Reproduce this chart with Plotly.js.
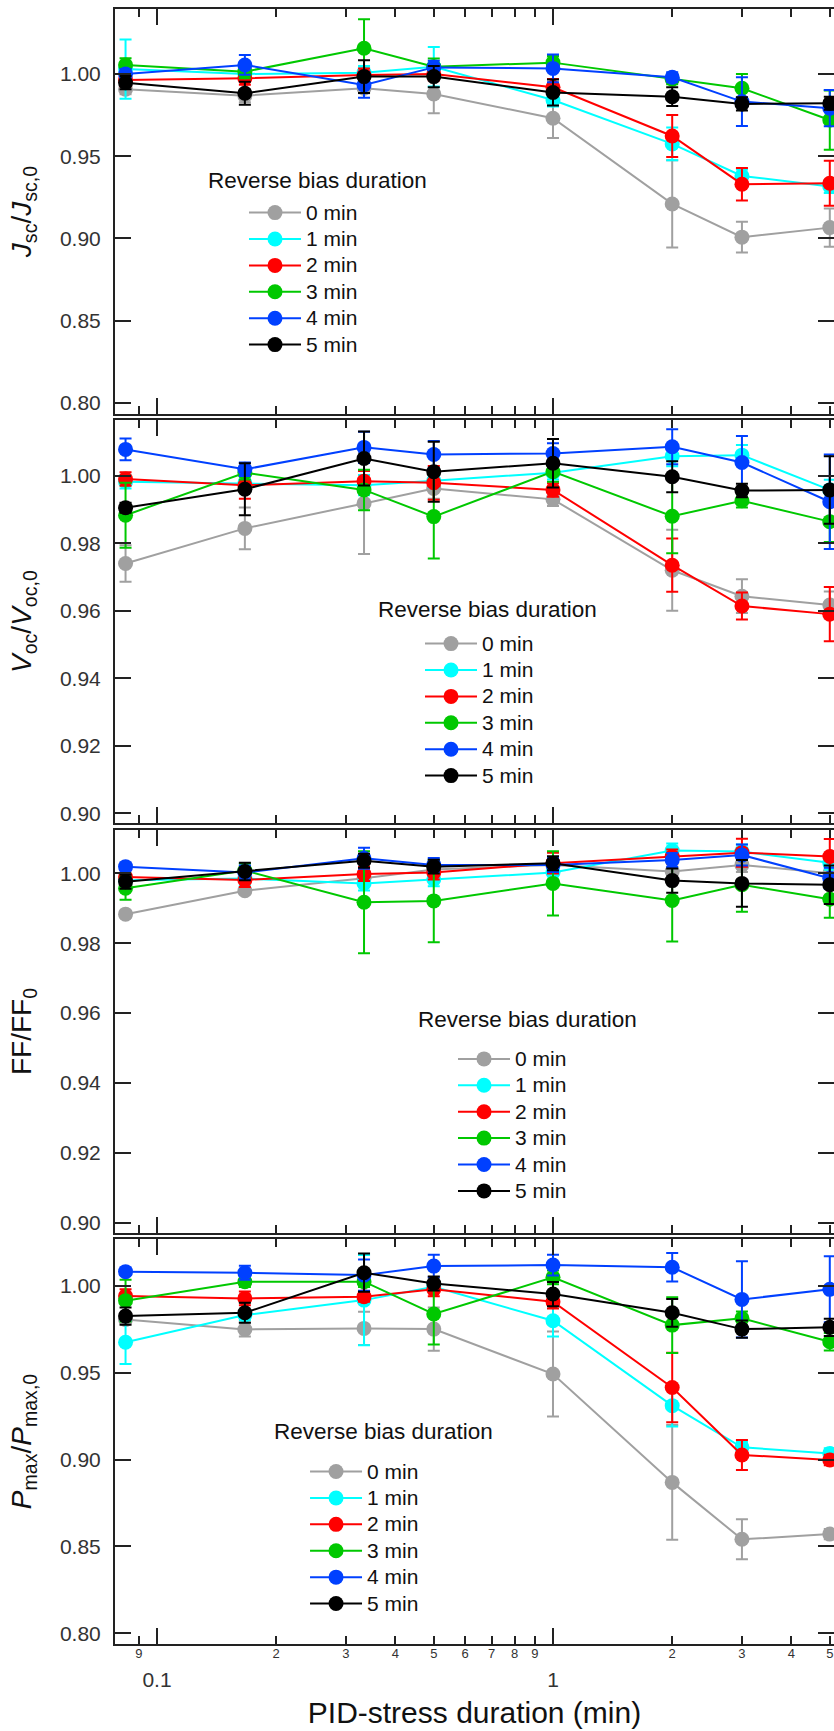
<!DOCTYPE html>
<html>
<head>
<meta charset="utf-8">
<script src="https://cdn.plot.ly/plotly-3.0.1.min.js"></script>
<style>
html,body{margin:0;padding:0;background:#fff;overflow:hidden;}
#chart{width:834px;height:1731px;}
</style>
</head>
<body>
<div id="chart"></div>
<script>
// PID-stress duration (min)
const stressMin = [0.0833, 0.1667, 0.3333, 0.5, 1, 2, 3, 5];
const seriesNames = ["0 min", "1 min", "2 min", "3 min", "4 min", "5 min"];
const seriesColors = ["#a0a0a0", "#00ffff", "#ff0000", "#00c800", "#0040ff", "#000000"];

// Jsc / Jsc,0 (rows: 0..5 min reverse bias)
const jscVal = [
  [0.9907, 0.9868, 0.9913, 0.9878, 0.9731, 0.9210, 0.9008, 0.9066],
  [1.0030, 1.0000, 1.0008, 1.0044, 0.9842, 0.9575, 0.9380, 0.9316],
  [0.9964, 0.9974, 0.9994, 1.0000, 0.9919, 0.9623, 0.9330, 0.9336],
  [1.0055, 1.0014, 1.0156, 1.0044, 1.0069, 0.9968, 0.9913, 0.9720],
  [1.0000, 1.0055, 0.9933, 1.0040, 1.0034, 0.9980, 0.9832, 0.9792],
  [0.9947, 0.9883, 0.9984, 0.9984, 0.9887, 0.9862, 0.9818, 0.9822]
];
const jscErr = [
  [0.003, 0.004, 0.003, 0.0117, 0.012, 0.0265, 0.0093, 0.0116],
  [0.018, 0.004, 0.004, 0.012, 0.004, 0.010, 0.004, 0.004],
  [0.004, 0.004, 0.004, 0.004, 0.005, 0.0127, 0.0099, 0.0137],
  [0.004, 0.004, 0.0176, 0.005, 0.004, 0.003, 0.0087, 0.018],
  [0.003, 0.006, 0.0077, 0.004, 0.0085, 0.003, 0.0148, 0.011],
  [0.004, 0.007, 0.010, 0.0065, 0.0079, 0.0057, 0.004, 0.004]
];

// Voc / Voc,0
const vocVal = [
  [0.9740, 0.9844, 0.9918, 0.9962, 0.9930, 0.9720, 0.9643, 0.9617],
  [0.9982, 0.9978, 0.9972, 0.9985, 1.0009, 1.0058, 1.0061, 0.9958],
  [0.9990, 0.9972, 0.9984, 0.9979, 0.9958, 0.9735, 0.9614, 0.9590],
  [0.9883, 1.0009, 0.9958, 0.9879, 1.0012, 0.9880, 0.9926, 0.9864],
  [1.0078, 1.0019, 1.0084, 1.0063, 1.0066, 1.0086, 1.0039, 0.9923],
  [0.9905, 0.9960, 1.0051, 1.0012, 1.0037, 0.9997, 0.9956, 0.9958]
];
const vocErr = [
  [0.0054, 0.0062, 0.015, 0.003, 0.002, 0.012, 0.005, 0.004],
  [0.002, 0.002, 0.003, 0.002, 0.002, 0.003, 0.003, 0.003],
  [0.002, 0.004, 0.003, 0.005, 0.002, 0.0079, 0.004, 0.008],
  [0.0096, 0.002, 0.006, 0.0124, 0.003, 0.011, 0.002, 0.006],
  [0.0032, 0.002, 0.0046, 0.004, 0.003, 0.0052, 0.0079, 0.014],
  [0.0015, 0.0077, 0.008, 0.0089, 0.0072, 0.0046, 0.002, 0.010]
];

// FF / FF0
const ffVal = [
  [0.9883, 0.9950, 0.9986, 1.0011, 1.0024, 1.0005, 1.0024, 1.0000],
  [0.9980, 0.9985, 0.9971, 0.9983, 1.0002, 1.0065, 1.0062, 1.0030],
  [0.9989, 0.9981, 0.9998, 1.0002, 1.0029, 1.0048, 1.0059, 1.0048],
  [0.9957, 1.0008, 0.9917, 0.9921, 0.9971, 0.9922, 0.9967, 0.9926],
  [1.0019, 1.0002, 1.0043, 1.0024, 1.0024, 1.0038, 1.0052, 0.9986],
  [0.9976, 1.0005, 1.0036, 1.0019, 1.0029, 0.9979, 0.9971, 0.9967]
];
const ffErr = [
  [0.001, 0.001, 0.002, 0.002, 0.002, 0.002, 0.002, 0.002],
  [0.002, 0.002, 0.002, 0.002, 0.002, 0.002, 0.002, 0.002],
  [0.002, 0.002, 0.002, 0.002, 0.003, 0.002, 0.004, 0.005],
  [0.0033, 0.002, 0.0146, 0.0118, 0.0092, 0.0117, 0.0077, 0.0053],
  [0.001, 0.002, 0.003, 0.002, 0.002, 0.002, 0.003, 0.003],
  [0.002, 0.0025, 0.002, 0.002, 0.002, 0.0035, 0.0067, 0.0055]
];

// Pmax / Pmax,0
const pmaxVal = [
  [0.9808, 0.9750, 0.9756, 0.9752, 0.9493, 0.8869, 0.8541, 0.8571],
  [0.9676, 0.9833, 0.9919, 0.9996, 0.9800, 0.9311, 0.9071, 0.9036],
  [0.9942, 0.9929, 0.9939, 0.9981, 0.9910, 0.9416, 0.9027, 0.8998],
  [0.9916, 1.0025, 1.0025, 0.9839, 1.0050, 0.9775, 0.9814, 0.9679],
  [1.0083, 1.0077, 1.0063, 1.0115, 1.0121, 1.0108, 0.9923, 0.9981],
  [0.9827, 0.9846, 1.0077, 1.0015, 0.9954, 0.9846, 0.9752, 0.9762]
];
const pmaxErr = [
  [0.002, 0.004, 0.0096, 0.0125, 0.0245, 0.033, 0.0115, 0.003],
  [0.0125, 0.003, 0.026, 0.003, 0.009, 0.012, 0.003, 0.003],
  [0.004, 0.004, 0.003, 0.004, 0.004, 0.020, 0.0086, 0.003],
  [0.012, 0.003, 0.003, 0.0175, 0.004, 0.016, 0.004, 0.005],
  [0.002, 0.004, 0.009, 0.0065, 0.006, 0.0082, 0.022, 0.019],
  [0.005, 0.0058, 0.011, 0.004, 0.007, 0.008, 0.005, 0.005]
];

const xMajorTicks = [0.1, 1];
const xMajorText = ["0.1", "1"];
const xMinorTicks = [0.09, 0.2, 0.3, 0.4, 0.5, 0.6, 0.7, 0.8, 0.9, 2, 3, 4, 5];
const xMinorText = ["9", "2", "3", "4", "5", "6", "7", "8", "9", "2", "3", "4", "5"];
const yTicksWide = [0.80, 0.85, 0.90, 0.95, 1.00];
const yTicksNarrow = [0.90, 0.92, 0.94, 0.96, 0.98, 1.00];
const legendTitle = "Reverse bias duration";

const FONT = "Liberation Sans, Arial, Helvetica, sans-serif";
const panels = [
  {vals: jscVal, errs: jscErr, ax: "", leg: "legend"},
  {vals: vocVal, errs: vocErr, ax: "2", leg: "legend2"},
  {vals: ffVal, errs: ffErr, ax: "3", leg: "legend3"},
  {vals: pmaxVal, errs: pmaxErr, ax: "4", leg: "legend4"}
];

const traces = [];
panels.forEach(p => {
  p.vals.forEach((row, i) => {
    traces.push({
      type: "scatter", mode: "lines+markers",
      x: stressMin, y: row,
      name: "<span style='font-size:21px'>" + seriesNames[i] + "</span>",
      xaxis: "x" + p.ax, yaxis: "y" + p.ax,
      legend: p.leg,
      cliponaxis: false,
      line: {color: seriesColors[i], width: 2},
      marker: {color: seriesColors[i], size: 15, line: {width: 0}},
      error_y: {type: "data", array: p.errs[i], visible: true, color: seriesColors[i], thickness: 2, width: 6}
    });
  });
});
// carrier for the overlay axis that draws the small digit labels
traces.push({type: "scatter", x: [], y: [], xaxis: "x5", yaxis: "y4", showlegend: false, hoverinfo: "skip"});

const xr = [-1.106, 0.7096];
function xAxis(anchor, labels) {
  return {
    type: "log", range: xr, anchor: anchor,
    showline: true, linecolor: "#222", linewidth: 2, mirror: "ticks",
    ticks: "inside", ticklen: 16, tickwidth: 2, tickcolor: "#222",
    tickmode: "array", tickvals: xMajorTicks, ticktext: xMajorText,
    showticklabels: labels, ticklabelstandoff: 16,
    tickfont: {family: FONT, size: 21, color: "#333"},
    minor: {tickmode: "array", tickvals: xMinorTicks, ticks: "inside", ticklen: 8, tickwidth: 2, tickcolor: "#222", showgrid: false},
    showgrid: false, zeroline: false, fixedrange: true
  };
}
function yAxis(anchor, domain, range, tickvals, title) {
  return {
    domain: domain, range: range, anchor: anchor,
    showline: true, linecolor: "#222", linewidth: 2, mirror: "ticks",
    ticks: "inside", ticklen: 16, tickwidth: 2, tickcolor: "#222",
    tickmode: "array", tickvals: tickvals, tickformat: ".2f",
    ticklabelstandoff: 8,
    tickfont: {family: FONT, size: 21, color: "#333"},
    title: {text: title, font: {family: FONT, size: 28, color: "#111"}, standoff: 20},
    showgrid: false, zeroline: false, fixedrange: true
  };
}

function legendAt(x, y) {
  return {
    x: x, y: y, xanchor: "left", yanchor: "top",
    bgcolor: "rgba(0,0,0,0)", borderwidth: 0,
    font: {family: FONT, size: 18, color: "#111"},
    itemwidth: 52, tracegroupgap: 0
  };
}
function titleAnn(x, y) {
  return {
    xref: "paper", yref: "paper", x: x, y: y, xanchor: "left", yanchor: "middle",
    text: legendTitle, showarrow: false,
    font: {family: FONT, size: 22.5, color: "#111"}
  };
}

const layout = {
  width: 834, height: 1731,
  margin: {l: 115, r: 0, t: 9, b: 87},
  paper_bgcolor: "#fff", plot_bgcolor: "#fff",
  showlegend: true,
  xaxis: xAxis("y", false),
  xaxis2: xAxis("y2", false),
  xaxis3: xAxis("y3", false),
  xaxis4: Object.assign(xAxis("y4", true), {
    title: {text: "PID-stress duration (min)", font: {family: FONT, size: 30, color: "#111"}, standoff: 12}
  }),
  xaxis5: {
    type: "log", range: xr, overlaying: "x4", anchor: "y4", side: "bottom",
    showline: false, ticks: "", tickmode: "array", tickvals: xMinorTicks, ticktext: xMinorText,
    ticklabelstandoff: 0,
    tickfont: {family: FONT, size: 13, color: "#333"},
    showgrid: false, zeroline: false, fixedrange: true
  },
  yaxis: yAxis("x", [0.7523, 1], [0.7933, 1.0395], yTicksWide, "<i>J</i><sub>sc</sub>/<i>J</i><sub>sc,0</sub>"),
  yaxis2: yAxis("x2", [0.5021, 0.7486], [0.8971, 1.0165], yTicksNarrow, "<i>V</i><sub>oc</sub>/<i>V</i><sub>oc,0</sub>"),
  yaxis3: yAxis("x3", [0.2514, 0.4979], [0.8971, 1.0124], yTicksNarrow, "FF/FF<sub>0</sub>"),
  yaxis4: yAxis("x4", [0, 0.2477], [0.7938, 1.0271], yTicksWide, "<i>P</i><sub>max</sub>/<i>P</i><sub>max,0</sub>"),
  legend: legendAt(0.1794, 0.8866),
  legend2: legendAt(0.4242, 0.6230),
  legend3: legendAt(0.4701, 0.3690),
  legend4: legendAt(0.2643, 0.1166),
  annotations: [
    titleAnn(0.126, 0.8954),
    titleAnn(0.3624, 0.6330),
    titleAnn(0.4180, 0.3817),
    titleAnn(0.2178, 0.1297)
  ]
};

Plotly.newPlot("chart", traces, layout, {displayModeBar: false, staticPlot: true});
</script>
</body>
</html>
